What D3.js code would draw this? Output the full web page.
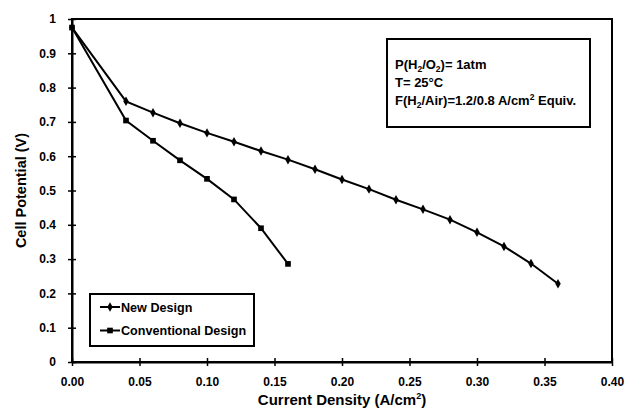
<!DOCTYPE html>
<html>
<head>
<meta charset="utf-8">
<script src="https://cdn.jsdelivr.net/npm/d3@7"></script>
<style>
  body { margin: 0; background: #fff; }
  svg { display: block; font-family: "Liberation Sans", Arial, sans-serif; }
  .tick text { font-size: 12px; font-weight: bold; fill: #000; }
</style>
</head>
<body>
<div id="svg-container"></div>
<script>
// data
const currentNew = [0, 0.04, 0.06, 0.08, 0.10, 0.12, 0.14, 0.16, 0.18, 0.20, 0.22, 0.24, 0.26, 0.28, 0.30, 0.32, 0.34, 0.36];
const voltageNew = [0.975, 0.760, 0.727, 0.696, 0.668, 0.642, 0.615, 0.590, 0.562, 0.532, 0.504, 0.473, 0.445, 0.415, 0.378, 0.337, 0.287, 0.228];
const currentConv = [0, 0.04, 0.06, 0.08, 0.10, 0.12, 0.14, 0.16];
const voltageConv = [0.975, 0.704, 0.645, 0.588, 0.534, 0.474, 0.390, 0.286];
const xTicks = [0, 0.05, 0.10, 0.15, 0.20, 0.25, 0.30, 0.35, 0.40];
const yTicks = [0, 0.1, 0.2, 0.3, 0.4, 0.5, 0.6, 0.7, 0.8, 0.9, 1];
const seriesNames = ["New Design", "Conventional Design"];

const width = 625, height = 412;
const margin = { top: 19, right: 13, bottom: 50, left: 72 };

const svg = d3.select("#svg-container").append("svg")
  .attr("width", width).attr("height", height);

const xScale = d3.scaleLinear().domain([0, 0.4]).range([margin.left, width - margin.right]);
const yScale = d3.scaleLinear().domain([0, 1]).range([height - margin.bottom, margin.top]);

// frame
svg.append("rect")
  .attr("x", xScale(0)).attr("y", yScale(1))
  .attr("width", xScale(0.4) - xScale(0)).attr("height", yScale(0) - yScale(1))
  .attr("fill", "none").attr("stroke", "#000").attr("stroke-width", 2);

// axes
const xAxis = d3.axisBottom(xScale).tickValues(xTicks).tickSize(4).tickSizeOuter(0)
  .tickFormat(d3.format(".2f"));
const yAxis = d3.axisLeft(yScale).tickValues(yTicks).tickSize(4).tickSizeOuter(0)
  .tickFormat(d => d === 0 || d === 1 ? d3.format("d")(d) : d3.format(".1f")(d));

const gx = svg.append("g").attr("transform", `translate(0, ${yScale(0)})`).call(xAxis);
const gy = svg.append("g").attr("transform", `translate(${xScale(0)}, 0)`).call(yAxis);
[gx, gy].forEach(g => {
  g.select(".domain").attr("stroke", "#000").attr("stroke-width", 2);
  g.selectAll(".tick line").attr("stroke", "#000").attr("stroke-width", 1.5);
});
gx.selectAll(".tick line").attr("y1", -4);
gx.selectAll(".tick text").attr("dy", "0").attr("y", 24);
gy.selectAll(".tick text").attr("x", -16);
gy.selectAll(".tick line").attr("x1", 4);

// axis titles
const xTitle = svg.append("text")
  .attr("x", (xScale(0) + xScale(0.4)) / 2).attr("y", 405)
  .attr("text-anchor", "middle").attr("font-size", 15).attr("font-weight", "bold");
xTitle.append("tspan").text("Current Density (A/cm");
xTitle.append("tspan").attr("font-size", 9).attr("dy", -6).text("2");
xTitle.append("tspan").attr("dy", 6).text(")");

svg.append("text")
  .attr("transform", `translate(26, ${(yScale(0) + yScale(1)) / 2}) rotate(-90)`)
  .attr("text-anchor", "middle").attr("font-size", 14.5).attr("font-weight", "bold")
  .text("Cell Potential (V)");

// lines
const line = d3.line().x(d => xScale(d[0])).y(d => yScale(d[1]));
const newData = d3.zip(currentNew, voltageNew);
const convData = d3.zip(currentConv, voltageConv);

[newData, convData].forEach(data => {
  svg.append("path").datum(data).attr("d", line)
    .attr("fill", "none").attr("stroke", "#000").attr("stroke-width", 2);
});

const diamond = d3.symbol().type(d3.symbolDiamond).size(26);
const square = d3.symbol().type(d3.symbolSquare).size(32);

svg.selectAll(".pt-new").data(newData).join("path")
  .attr("class", "pt-new").attr("d", diamond)
  .attr("transform", d => `translate(${xScale(d[0])}, ${yScale(d[1])})`)
  .attr("fill", "#000");
svg.selectAll(".pt-conv").data(convData).join("path")
  .attr("class", "pt-conv").attr("d", square)
  .attr("transform", d => `translate(${xScale(d[0])}, ${yScale(d[1])})`)
  .attr("fill", "#000");

// legend
const legend = svg.append("g").attr("transform", "translate(90, 294)");
legend.append("rect").attr("width", 164).attr("height", 52)
  .attr("fill", "#fff").attr("stroke", "#000").attr("stroke-width", 2);
seriesNames.forEach((name, i) => {
  const y = 13 + i * 23.5;
  legend.append("line").attr("x1", 10).attr("x2", 30).attr("y1", y).attr("y2", y)
    .attr("stroke", "#000").attr("stroke-width", 2);
  legend.append("path").attr("d", i === 0 ? diamond : square)
    .attr("transform", `translate(20, ${y})`).attr("fill", "#000");
  legend.append("text").attr("x", 31).attr("y", y + 4.5)
    .attr("font-size", 12.6).attr("font-weight", "bold").text(name);
});

// conditions box
const info = svg.append("g").attr("transform", "translate(387, 39)");
info.append("rect").attr("width", 203).attr("height", 88)
  .attr("fill", "#fff").attr("stroke", "#000").attr("stroke-width", 2);

const t1 = info.append("text").attr("x", 8).attr("y", 30).attr("font-size", 13).attr("font-weight", "bold");
t1.append("tspan").text("P(H");
t1.append("tspan").attr("font-size", 8.5).attr("dy", 3).text("2");
t1.append("tspan").attr("dy", -3).text("/O");
t1.append("tspan").attr("font-size", 8.5).attr("dy", 3).text("2");
t1.append("tspan").attr("dy", -3).text(")= 1atm");

info.append("text").attr("x", 8).attr("y", 48).attr("font-size", 13).attr("font-weight", "bold")
  .text("T= 25°C");

const t3 = info.append("text").attr("x", 8).attr("y", 66).attr("font-size", 13).attr("font-weight", "bold");
t3.append("tspan").text("F(H");
t3.append("tspan").attr("font-size", 8.5).attr("dy", 3).text("2");
t3.append("tspan").attr("dy", -3).text("/Air)=1.2/0.8 A/cm");
t3.append("tspan").attr("font-size", 8.5).attr("dy", -5).text("2");
t3.append("tspan").attr("dy", 5).text(" Equiv.");
</script>
</body>
</html>
